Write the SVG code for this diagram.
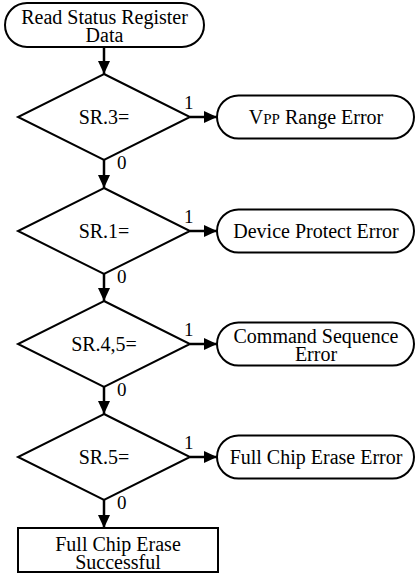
<svg xmlns="http://www.w3.org/2000/svg" width="417" height="574" viewBox="0 0 417 574" font-family="Liberation Serif">
<style>
.shape{fill:#fff;stroke:#000;stroke-width:2}
.conn{stroke:#000;stroke-width:2.5;fill:none}
</style>
<defs>
<marker id="a" markerUnits="userSpaceOnUse" markerWidth="14" markerHeight="14" viewBox="0 0 14 14" refX="13" refY="7" orient="auto">
<path d="M0,1 L13,7 L0,13 Z" fill="#000"/>
</marker>
</defs>
<rect width="417" height="574" fill="#fff"/>
<g id="connectors">
<line class="conn" x1="104" y1="47" x2="104" y2="74" marker-end="url(#a)"/>
<line class="conn" x1="104" y1="160" x2="104" y2="188" marker-end="url(#a)"/>
<line class="conn" x1="104" y1="274" x2="104" y2="301" marker-end="url(#a)"/>
<line class="conn" x1="104" y1="387" x2="104" y2="414" marker-end="url(#a)"/>
<line class="conn" x1="104" y1="500" x2="104" y2="528" marker-end="url(#a)"/>
<line class="conn" x1="190" y1="117" x2="217" y2="117" marker-end="url(#a)"/>
<line class="conn" x1="190" y1="231" x2="217" y2="231" marker-end="url(#a)"/>
<line class="conn" x1="190" y1="344" x2="217" y2="344" marker-end="url(#a)"/>
<line class="conn" x1="190" y1="457" x2="217" y2="457" marker-end="url(#a)"/>
<g font-family="Liberation Serif" font-size="19" style="font-family:'Liberation Serif',serif">
<text x="184" y="109" font-family="Liberation Serif">1</text>
<text x="184" y="223" font-family="Liberation Serif">1</text>
<text x="184" y="336" font-family="Liberation Serif">1</text>
<text x="184" y="449" font-family="Liberation Serif">1</text>
<text x="117" y="169" font-family="Liberation Serif">0</text>
<text x="117" y="283" font-family="Liberation Serif">0</text>
<text x="117" y="396" font-family="Liberation Serif">0</text>
<text x="117" y="509" font-family="Liberation Serif">0</text>
</g>
</g>
<g id="start" font-family="Liberation Serif" font-size="20" text-anchor="middle">
<rect class="shape" x="5" y="3" width="199" height="44" rx="22"/>
<text x="104.5" y="24" font-family="Liberation Serif" style="font-family:'Liberation Serif',serif">Read Status Register</text>
<text x="104.5" y="42" font-family="Liberation Serif" style="font-family:'Liberation Serif',serif">Data</text>
</g>
<g id="d1" font-family="Liberation Serif" font-size="20" text-anchor="middle">
<polygon class="shape" points="104,74 190,117 104,160 18,117"/>
<text x="104" y="124" font-family="Liberation Serif" style="font-family:'Liberation Serif',serif">SR.3=</text>
</g>
<g id="e1" font-family="Liberation Serif" font-size="20" text-anchor="middle">
<rect class="shape" x="217" y="95.5" width="197" height="43" rx="21.5"/>
<text x="316" y="124" font-family="Liberation Serif" style="font-family:'Liberation Serif',serif">V<tspan font-size="15" font-family="Liberation Serif">PP</tspan> Range Error</text>
</g>
<g id="d2" font-family="Liberation Serif" font-size="20" text-anchor="middle">
<polygon class="shape" points="104,188 190,231 104,274 18,231"/>
<text x="104" y="238" font-family="Liberation Serif" style="font-family:'Liberation Serif',serif">SR.1=</text>
</g>
<g id="e2" font-family="Liberation Serif" font-size="20" text-anchor="middle">
<rect class="shape" x="217" y="209.5" width="197" height="43" rx="21.5"/>
<text x="316" y="238" font-family="Liberation Serif" style="font-family:'Liberation Serif',serif">Device Protect Error</text>
</g>
<g id="d3" font-family="Liberation Serif" font-size="20" text-anchor="middle">
<polygon class="shape" points="104,301 190,344 104,387 18,344"/>
<text x="104" y="351" font-family="Liberation Serif" style="font-family:'Liberation Serif',serif">SR.4,5=</text>
</g>
<g id="e3" font-family="Liberation Serif" font-size="20" text-anchor="middle">
<rect class="shape" x="217" y="322.5" width="197" height="43" rx="21.5"/>
<text x="316" y="343" font-family="Liberation Serif" style="font-family:'Liberation Serif',serif">Command Sequence</text>
<text x="316" y="361" font-family="Liberation Serif" style="font-family:'Liberation Serif',serif">Error</text>
</g>
<g id="d4" font-family="Liberation Serif" font-size="20" text-anchor="middle">
<polygon class="shape" points="104,414 190,457 104,500 18,457"/>
<text x="104" y="464" font-family="Liberation Serif" style="font-family:'Liberation Serif',serif">SR.5=</text>
</g>
<g id="e4" font-family="Liberation Serif" font-size="20" text-anchor="middle">
<rect class="shape" x="217" y="435.5" width="197" height="43" rx="21.5"/>
<text x="316" y="464" font-family="Liberation Serif" style="font-family:'Liberation Serif',serif">Full Chip Erase Error</text>
</g>
<g id="end" font-family="Liberation Serif" font-size="20" text-anchor="middle">
<rect class="shape" x="18" y="528" width="200" height="44"/>
<text x="118" y="551" font-family="Liberation Serif" style="font-family:'Liberation Serif',serif">Full Chip Erase</text>
<text x="118" y="569" font-family="Liberation Serif" style="font-family:'Liberation Serif',serif">Successful</text>
</g>
</svg>
